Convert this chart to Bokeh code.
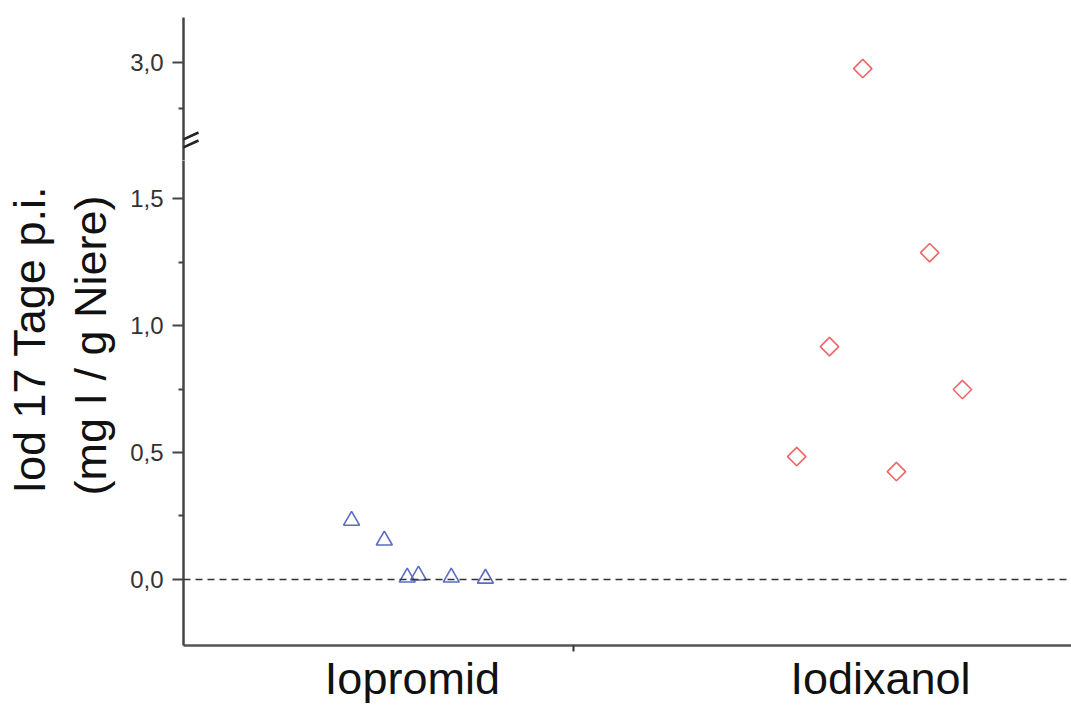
import math
from bokeh.plotting import figure
from bokeh.layouts import column
from bokeh.models import (FixedTicker, CustomJSTickFormatter, Span, Title,
                          PolyAnnotation, Range1d)
from bokeh.embed import file_html
from bokeh.resources import INLINE

# ---- data ----
categories = ["Iopromid", "Iodixanol"]
cat_pos = [1, 2]
iopromid_x = [0.870, 0.940, 0.989, 1.013, 1.083, 1.156]
iopromid_y = [0.232, 0.154, 0.008, 0.016, 0.008, 0.004]
iodixanol_x = [1.821, 1.891, 1.962, 2.034, 2.105, 2.175]
iodixanol_y = [0.484, 0.917, 2.967, 0.425, 1.287, 0.748]
lower_ticks = [0.0, 0.5, 1.0, 1.5]
lower_minor = [0.25, 0.75, 1.25]
upper_ticks = [3.0]
upper_minor = [2.75]
y_label_line1 = "Iod 17 Tage p.i."
y_label_line2 = "(mg I / g Niere)"

FONT = "Liberation Sans"
W = 1071
XR = (0.511, 2.408)
fmt = CustomJSTickFormatter(code="return tick.toFixed(1).replace('.', ',');")


def style_y(ax, ticks, minor):
    ax.ticker = FixedTicker(ticks=ticks, minor_ticks=minor)
    ax.formatter = fmt
    ax.axis_line_color = "#444444"
    ax.axis_line_width = 2.5
    ax.major_tick_line_color = "#444444"
    ax.major_tick_line_width = 2
    ax.minor_tick_line_color = "#444444"
    ax.minor_tick_line_width = 2
    ax.major_tick_out = 11
    ax.major_tick_in = 0
    ax.minor_tick_out = 5
    ax.minor_tick_in = 0
    ax.major_label_text_font = FONT
    ax.major_label_text_font_size = "24px"
    ax.major_label_text_color = "#333333"
    ax.major_label_standoff = 9


def add_points(p):
    p.scatter(iopromid_x, iopromid_y, marker="triangle", size=16,
              fill_color=None, line_color="#5a6bc4", line_width=1.6)
    p.scatter(iodixanol_x, iodixanol_y, marker="square", angle=math.pi / 4,
              size=13, fill_color=None, line_color="#f06666", line_width=1.6)


# ---- upper segment ----
top = figure(width=W, height=160, output_backend="svg", toolbar_location=None,
             x_range=Range1d(*XR), y_range=Range1d(2.467, 3.245),
             min_border_left=183, min_border_right=0, min_border_top=17,
             min_border_bottom=0)
top.outline_line_color = None
top.grid.visible = False
top.xaxis.visible = False
style_y(top.yaxis[0], upper_ticks, upper_minor)
add_points(top)

for (x0, y0, x1, y1) in [(-13, 15, 15, 28), (-13, 7, 15, 20)]:
    top.add_layout(PolyAnnotation(xs=[x0, x1], ys=[y0, y1], xs_units="screen",
                                  ys_units="screen", fill_color=None,
                                  line_color="#222222", line_width=2.5,
                                  line_alpha=1.0))

# ---- lower segment ----
bot = figure(width=W, height=547, output_backend="svg", toolbar_location=None,
             x_range=Range1d(*XR), y_range=Range1d(-0.26, 1.65),
             min_border_left=183, min_border_right=0, min_border_top=0,
             min_border_bottom=62)
bot.outline_line_color = None
bot.grid.visible = False
style_y(bot.yaxis[0], lower_ticks, lower_minor)

xa = bot.xaxis[0]
xa.ticker = FixedTicker(ticks=cat_pos, minor_ticks=[1.344])
xa.major_label_overrides = {p: c for p, c in zip(cat_pos, categories)}
xa.axis_line_color = "#555555"
xa.axis_line_width = 2.5
xa.major_tick_out = 0
xa.major_tick_in = 0
xa.minor_tick_out = 6
xa.minor_tick_in = 0
xa.minor_tick_line_color = "#333333"
xa.minor_tick_line_width = 2
xa.major_label_text_font = FONT
xa.major_label_text_font_size = "45px"
xa.major_label_text_color = "#111111"
xa.major_label_standoff = 1

bot.add_layout(Span(location=0, dimension="width", line_color="#333333",
                    line_width=1.5, line_dash="7 5"))
add_points(bot)

# inner line (closest to axis) first, then outer line
bot.add_layout(Title(text=y_label_line2, align="left", offset=150,
                     vertical_align="top", text_font=FONT,
                     text_font_size="45px", text_font_style="normal",
                     text_color="#111111", standoff=20), "left")
bot.add_layout(Title(text=y_label_line1, align="left", offset=152,
                     vertical_align="bottom", text_font=FONT,
                     text_font_size="45px", text_font_style="normal",
                     text_color="#111111", standoff=0), "left")

p = column(top, bot, spacing=0)
open("out.html", "w").write(file_html(p, INLINE))
